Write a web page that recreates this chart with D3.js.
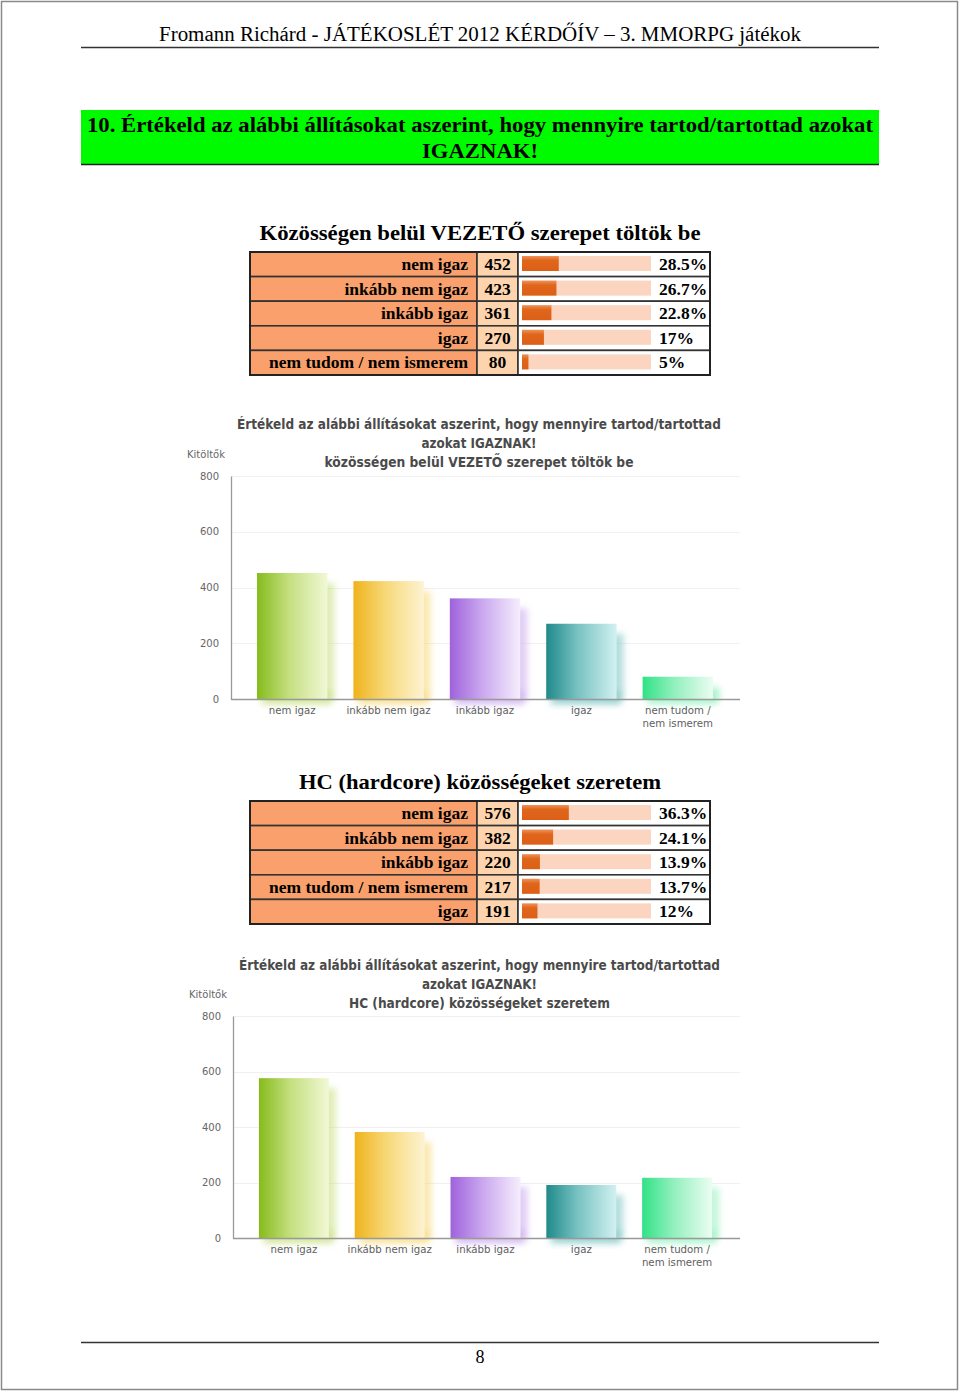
<!DOCTYPE html>
<html>
<head>
<meta charset="utf-8">
<script src="https://cdn.jsdelivr.net/npm/d3@7"></script>
<style>
  html, body { margin: 0; padding: 0; background: #fff; }
  svg { display: block; }
</style>
</head>
<body>
<svg id="page" width="960" height="1393"></svg>
<script>
// ---------------- DATA ----------------
const headerText = "Fromann Richárd - JÁTÉKOSLÉT 2012 KÉRDŐÍV – 3. MMORPG játékok";
const questionLines = ["10. Értékeld az alábbi állításokat aszerint, hogy mennyire tartod/tartottad azokat", "IGAZNAK!"];

const table1Title = "Közösségen belül VEZETŐ szerepet töltök be";
const table1Cats = ["nem igaz", "inkább nem igaz", "inkább igaz", "igaz", "nem tudom / nem ismerem"];
const table1Counts = [452, 423, 361, 270, 80];
const table1Pcts = [28.5, 26.7, 22.8, 17, 5];

const chart1Titles = ["Értékeld az alábbi állításokat aszerint, hogy mennyire tartod/tartottad", "azokat IGAZNAK!", "közösségen belül VEZETŐ szerepet töltök be"];
const chartCats = ["nem igaz", "inkább nem igaz", "inkább igaz", "igaz", "nem tudom / nem ismerem"];
const chart1Values = [452, 423, 361, 270, 80];

const table2Title = "HC (hardcore) közösségeket szeretem";
const table2Cats = ["nem igaz", "inkább nem igaz", "inkább igaz", "nem tudom / nem ismerem", "igaz"];
const table2Counts = [576, 382, 220, 217, 191];
const table2Pcts = [36.3, 24.1, 13.9, 13.7, 12];

const chart2Titles = ["Értékeld az alábbi állításokat aszerint, hogy mennyire tartod/tartottad", "azokat IGAZNAK!", "HC (hardcore) közösségeket szeretem"];
const chart2Values = [576, 382, 220, 191, 217];

const yTicks = [0, 200, 400, 600, 800];
const yLabel = "Kitöltők";
const pageNumber = "8";

// ---------------- DRAWING ----------------
const svg = d3.select("#page");
const serif = "'Liberation Serif', 'Times New Roman', serif";
const sans = "'DejaVu Sans', Verdana, sans-serif";

const defs = svg.append("defs");
const barColors = [
  ["#86bb1c", "#c4df7e", "#f1f8d6"],
  ["#efb31c", "#f7d877", "#fdf3d2"],
  ["#9f62dc", "#c9a6ee", "#f5eefd"],
  ["#1f8a8a", "#79c2c2", "#d2f1f1"],
  ["#30e286", "#92f0bd", "#ebfdf2"]
];
barColors.forEach((c, i) => {
  const g = defs.append("linearGradient").attr("id", "bg" + i)
    .attr("x1", "0").attr("x2", "1").attr("y1", "0").attr("y2", "0");
  g.append("stop").attr("offset", "0").attr("stop-color", c[0]);
  g.append("stop").attr("offset", "0.45").attr("stop-color", c[1]);
  g.append("stop").attr("offset", "1").attr("stop-color", c[2]);
});
defs.append("filter").attr("id", "blur").attr("x", "-30%").attr("y", "-30%").attr("width", "160%").attr("height", "160%")
  .append("feGaussianBlur").attr("stdDeviation", 3);
const tg = defs.append("linearGradient").attr("id", "tfill").attr("x1", 0).attr("x2", 0).attr("y1", 0).attr("y2", 1);
tg.append("stop").attr("offset", "0").attr("stop-color", "#ee935a");
tg.append("stop").attr("offset", "0.3").attr("stop-color", "#e0661c");
tg.append("stop").attr("offset", "1").attr("stop-color", "#dc5f16");

// page border
svg.append("rect").attr("x", 1.5).attr("y", 1.5).attr("width", 956).attr("height", 1388)
  .attr("fill", "none").attr("stroke", "#8a8a8a").attr("stroke-width", 1.5);

function txt(g, s, x, y, opts) {
  const t = g.append("text").attr("x", x).attr("y", y).text(s)
    .attr("font-family", opts.family || serif)
    .attr("font-size", opts.size || 16)
    .attr("font-weight", opts.weight || "normal")
    .attr("fill", opts.fill || "#000")
    .attr("text-anchor", opts.anchor || "start");
  if (opts.len) t.attr("textLength", opts.len).attr("lengthAdjust", "spacingAndGlyphs");
  return t;
}

// header
txt(svg, headerText, 480, 41, {size: 20.5, anchor: "middle", len: 642});
svg.append("line").attr("x1", 81).attr("x2", 879).attr("y1", 47.5).attr("y2", 47.5).attr("stroke", "#333").attr("stroke-width", 1.5);

// question banner
svg.append("rect").attr("x", 81).attr("y", 110).attr("width", 798).attr("height", 54).attr("fill", "#00fa00");
svg.append("line").attr("x1", 81).attr("x2", 879).attr("y1", 164.5).attr("y2", 164.5).attr("stroke", "#222").attr("stroke-width", 1.5);
txt(svg, questionLines[0], 480, 131.5, {size: 22, weight: "bold", anchor: "middle", len: 786});
txt(svg, questionLines[1], 480, 157.5, {size: 22, weight: "bold", anchor: "middle", len: 116});

// ---------- tables ----------
function drawTable(title, cats, counts, pcts, top, titleY, titleLen) {
  const g = svg.append("g");
  txt(g, title, 480, titleY, {size: 21.5, weight: "bold", anchor: "middle", len: titleLen});
  const rowH = 24.6;
  const cols = [250, 477, 518, 710];
  const rows = d3.range(cats.length);
  const barX = d3.scaleLinear().domain([0, 100]).range([0, 129]);
  rows.forEach(i => {
    const y = top + i * rowH;
    g.append("rect").attr("x", cols[0]).attr("y", y).attr("width", cols[1] - cols[0]).attr("height", rowH)
      .attr("fill", "#f9a06c").attr("stroke", "#333").attr("stroke-width", 1.6);
    g.append("rect").attr("x", cols[1]).attr("y", y).attr("width", cols[2] - cols[1]).attr("height", rowH)
      .attr("fill", "#fdd4ad").attr("stroke", "#333").attr("stroke-width", 1.6);
    g.append("rect").attr("x", cols[2]).attr("y", y).attr("width", cols[3] - cols[2]).attr("height", rowH)
      .attr("fill", "#fff").attr("stroke", "#333").attr("stroke-width", 1.6);
    g.append("rect").attr("x", 522).attr("y", y + 4).attr("width", barX(100)).attr("height", 15)
      .attr("fill", "#fbd5bf");
    g.append("rect").attr("x", 522).attr("y", y + 4).attr("width", barX(pcts[i])).attr("height", 15)
      .attr("fill", "url(#tfill)");
    txt(g, cats[i], 468, y + 18, {size: 17.5, weight: "bold", anchor: "end"});
    txt(g, counts[i], 497.5, y + 18, {size: 17.5, weight: "bold", anchor: "middle"});
    txt(g, pcts[i] + "%", 659, y + 18, {size: 17.5, weight: "bold"});
  });
  g.append("rect").attr("x", cols[0]).attr("y", top).attr("width", cols[3] - cols[0]).attr("height", rowH * cats.length)
    .attr("fill", "none").attr("stroke", "#222").attr("stroke-width", 2);
}
drawTable(table1Title, table1Cats, table1Counts, table1Pcts, 252, 240, 441);
drawTable(table2Title, table2Cats, table2Counts, table2Pcts, 801, 789, 362);

// ---------- bar charts ----------
function drawChart(titles, values, o) {
  const g = svg.append("g");
  const tY = o.titleY;
  txt(g, titles[0], o.titleCx, tY, {family: sans, size: 13.5, weight: "bold", anchor: "middle", fill: "#4a4a4a", len: o.len1});
  txt(g, titles[1], o.titleCx, tY + 19, {family: sans, size: 13.5, weight: "bold", anchor: "middle", fill: "#4a4a4a", len: 115});
  txt(g, titles[2], o.titleCx, tY + 38, {family: sans, size: 13.5, weight: "bold", anchor: "middle", fill: "#4a4a4a", len: o.len3});

  const y = d3.scaleLinear().domain([0, 800]).range([o.y0, o.y800]);
  const x = d3.scaleBand().domain(chartCats).range(o.band).paddingInner(0.27).paddingOuter(0.135);

  // y label
  txt(g, yLabel, o.axisX - 44, o.y800 - 18, {family: sans, size: 10, fill: "#666"});

  // grid
  g.selectAll(".grid").data(yTicks.slice(1)).join("line")
    .attr("x1", o.axisX).attr("x2", o.right)
    .attr("y1", d => Math.round(y(d)) + 0.5).attr("y2", d => Math.round(y(d)) + 0.5)
    .attr("stroke", "#f0f0f0").attr("stroke-width", 1);

  // y axis
  const ya = g.append("g").attr("transform", `translate(${o.axisX},0)`)
    .call(d3.axisLeft(y).tickValues(yTicks).tickSize(0).tickPadding(12));
  ya.select(".domain").attr("stroke", "#999").attr("stroke-width", 1.3);
  ya.selectAll("text").attr("font-family", sans).attr("font-size", 10).attr("fill", "#666");

  // bars: shadow + bar
  const bars = g.append("g");
  values.forEach((v, i) => {
    const bx = x(chartCats[i]), bw = x.bandwidth(), by = y(v), bh = o.y0 - by;
    bars.append("rect").attr("x", bx + 9).attr("y", by + 10).attr("width", bw - 2).attr("height", Math.max(0, bh - 8))
      .attr("fill", barColors[i][1]).attr("opacity", 0.55).attr("filter", "url(#blur)");
    bars.append("rect").attr("x", bx + 4).attr("y", o.y0 - 8).attr("width", bw).attr("height", 14)
      .attr("fill", barColors[i][1]).attr("opacity", 0.55).attr("filter", "url(#blur)");
    bars.append("rect").attr("x", bx).attr("y", by).attr("width", bw).attr("height", bh)
      .attr("fill", `url(#bg${i})`);
  });

  // x axis
  g.append("line").attr("x1", o.axisX).attr("x2", o.right).attr("y1", o.y0 + 0.5).attr("y2", o.y0 + 0.5)
    .attr("stroke", "#999").attr("stroke-width", 1.3);
  chartCats.forEach(c => {
    const parts = c.indexOf(" / ") >= 0 ? [c.split(" / ")[0] + " /", c.split(" / ")[1]] : [c];
    parts.forEach((p, k) => {
      txt(g, p, x(c) + x.bandwidth() / 2, o.y0 + 15 + k * 12.5, {family: sans, size: 10.2, anchor: "middle", fill: "#5e5e5e"});
    });
  });
}

drawChart(chart1Titles, chart1Values, {titleY: 429, titleCx: 479, len1: 484, len3: 309,
  axisX: 231, y0: 699, y800: 476, right: 740, band: [244, 726]});
drawChart(chart2Titles, chart2Values, {titleY: 970, titleCx: 479.5, len1: 481, len3: 261,
  axisX: 233, y0: 1238, y800: 1016, right: 740, band: [246, 725]});

// footer
svg.append("line").attr("x1", 81).attr("x2", 879).attr("y1", 1342.5).attr("y2", 1342.5).attr("stroke", "#333").attr("stroke-width", 1.5);
txt(svg, pageNumber, 480, 1363, {size: 18, anchor: "middle"});
</script>
</body>
</html>
